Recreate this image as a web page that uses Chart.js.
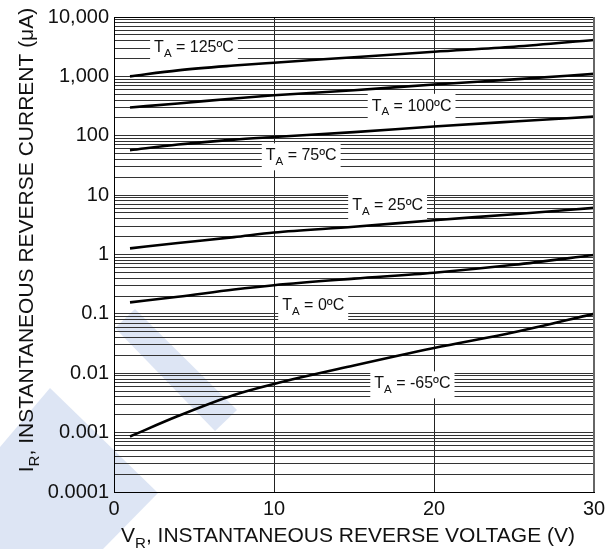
<!DOCTYPE html>
<html>
<head>
<meta charset="utf-8">
<script src="https://cdn.jsdelivr.net/npm/chart.js@4"></script>
<style>
    html, body { margin: 0; padding: 0; background: #fff; }
    #wrap { width: 611px; height: 549px; position: relative; }
</style>
</head>
<body>
<div id="wrap"><canvas id="chart" width="611" height="549"></canvas></div>
<script>
// Data.
const voltages = [1, 4, 7.5, 10, 15, 20, 25, 30];
const current125 = [1000, 1260, 1520, 1700, 2100, 2600, 3150, 4100];
const current100 = [300, 350, 425, 480, 585, 730, 890, 1100];
const current75 = [57, 71, 86, 95, 115, 143, 174, 210];
const current25 = [1.27, 1.56, 1.96, 2.35, 2.93, 3.78, 4.75, 6.1];
const current0 = [0.156, 0.194, 0.257, 0.304, 0.392, 0.493, 0.67, 0.98];
const currentMinus65 = [0.00086, 0.0019, 0.0043, 0.0066, 0.0135, 0.0266, 0.049, 0.1];

// Curve labels and where they sit (in data units).
const curveNames = ['125ºC', '100ºC', '75ºC', '25ºC', '0ºC', '-65ºC'];
const labelV = [5.0, 18.6, 11.7, 17.1, 12.45, 18.65];
const labelI = [3000, 307, 45, 6.5, 0.135, 0.0065];

// Ticks.
const xTicks = [0, 10, 20, 30];
const xTickLabels = ['0', '10', '20', '30'];
const yDecades = [0.0001, 0.001, 0.01, 0.1, 1, 10, 100, 1000, 10000];
const yTickLabels = ['0.0001', '0.001', '0.01', '0.1', '1', '10', '100', '1,000', '10,000'];

const FONT = "'Liberation Sans', Arial, sans-serif";

function toPoints(values) {
    return voltages.map((v, i) => ({ x: v, y: values[i] }));
}

// Draw text made of normal and subscript parts, centred on x.
function drawRich(ctx, parts, x, y, size) {
    let widths = parts.map(p => {
        ctx.font = (p.sub ? size * 0.72 : size) + 'px ' + FONT;
        return ctx.measureText(p.t).width;
    });
    let total = widths.reduce((a, b) => a + b, 0);
    let cx = x - total / 2;
    parts.forEach((p, i) => {
        ctx.font = (p.sub ? size * 0.72 : size) + 'px ' + FONT;
        ctx.fillText(p.t, cx, p.sub ? y + size * 0.28 : y);
        cx += widths[i];
    });
    return total;
}

function richWidth(ctx, parts, size) {
    let total = 0;
    parts.forEach(p => {
        ctx.font = (p.sub ? size * 0.72 : size) + 'px ' + FONT;
        total += ctx.measureText(p.t).width;
    });
    return total;
}

// Background and watermark.
const backgroundPlugin = {
    id: 'background',
    beforeDraw(chart) {
        const ctx = chart.ctx;
        ctx.save();
        ctx.fillStyle = '#fff';
        ctx.fillRect(0, 0, chart.width, chart.height);
        ctx.fillStyle = '#dde5f4';
        ctx.beginPath();
        ctx.moveTo(135, 309);
        ctx.lineTo(237, 410);
        ctx.lineTo(215, 431);
        ctx.lineTo(115, 328);
        ctx.closePath();
        ctx.fill();
        ctx.beginPath();
        ctx.moveTo(50, 388);
        ctx.lineTo(158, 493);
        ctx.lineTo(103, 549);
        ctx.lineTo(0, 549);
        ctx.lineTo(0, 447);
        ctx.closePath();
        ctx.fill();
        ctx.restore();
    }
};

// White boxes with the temperature labels, frame and axis titles.
const labelPlugin = {
    id: 'curveLabels',
    beforeDatasetsDraw(chart) {
        const ctx = chart.ctx;
        const xs = chart.scales.x, ys = chart.scales.y;
        ctx.save();
        ctx.textBaseline = 'alphabetic';
        curveNames.forEach((name, i) => {
            const px = xs.getPixelForValue(labelV[i]);
            const py = ys.getPixelForValue(labelI[i]);
            const parts = [{ t: 'T' }, { t: 'A', sub: true }, { t: ' = ' + name }];
            const w = richWidth(ctx, parts, 16);
            ctx.fillStyle = '#fff';
            ctx.fillRect(px - w / 2 - 4, py - 13, w + 8, 27);
            ctx.fillStyle = '#111';
            drawRich(ctx, parts, px, py + 4, 16);
        });
        ctx.restore();
    },
    afterDraw(chart) {
        const ctx = chart.ctx;
        const a = chart.chartArea;
        ctx.save();
        // Frame.
        ctx.strokeStyle = '#000';
        ctx.lineWidth = 1;
        ctx.beginPath();
        ctx.moveTo(a.left, a.top + 0.5);
        ctx.lineTo(a.right, a.top + 0.5);
        ctx.stroke();
        ctx.strokeStyle = '#666';
        ctx.lineWidth = 2;
        ctx.beginPath();
        ctx.moveTo(a.right, a.top);
        ctx.lineTo(a.right, a.bottom);
        ctx.stroke();

        // Axis titles.
        ctx.fillStyle = '#111';
        ctx.textBaseline = 'alphabetic';
        drawRich(ctx, [{ t: 'V' }, { t: 'R', sub: true }, { t: ', INSTANTANEOUS REVERSE VOLTAGE (V)' }],
            348, 542, 21);
        ctx.translate(33, 240);
        ctx.rotate(-Math.PI / 2);
        drawRich(ctx, [{ t: 'I' }, { t: 'R', sub: true }, { t: ', INSTANTANEOUS REVERSE CURRENT (μA)' }],
            0, 0, 21);
        ctx.restore();
    }
};

function lineSet(values) {
    return {
        data: toPoints(values),
        borderColor: '#000',
        borderWidth: 2.6,
        pointRadius: 0,
        cubicInterpolationMode: 'monotone',
        fill: false,
    };
}

const ctx = document.getElementById('chart');

const config = {
    type: 'line',
    data: {
        datasets: [
            lineSet(current125),
            lineSet(current100),
            lineSet(current75),
            lineSet(current25),
            lineSet(current0),
            lineSet(currentMinus65),
        ]
    },
    options: {
        responsive: false,
        animation: false,
        layout: {
            padding: { left: 0, right: 17, top: 13, bottom: 0 },
        },
        plugins: {
            legend: { display: false },
            tooltip: { enabled: false },
        },
        scales: {
            x: {
                type: 'linear',
                min: 0,
                max: 30,
                afterBuildTicks: (scale) => {
                    scale.ticks = xTicks.map(v => ({ value: v }));
                },
                afterFit: (scale) => { scale.height = 57; },
                ticks: {
                    callback: (v) => xTickLabels[xTicks.indexOf(v)],
                    font: { family: FONT, size: 20 },
                    color: '#111',
                    padding: 5,
                    maxRotation: 0,
                    autoSkip: false,
                },
                grid: {
                    color: '#222',
                    lineWidth: 1,
                    drawTicks: false,
                },
                border: { display: true, color: '#000', width: 1 },
            },
            y: {
                type: 'logarithmic',
                min: 0.0001,
                max: 10000,
                afterBuildTicks: (scale) => {
                    const ticks = [];
                    for (let d = 0; d < yDecades.length; d++) {
                        for (let m = 1; m <= 9; m++) {
                            if (d == yDecades.length - 1 && m > 1) break;
                            ticks.push({ value: yDecades[d] * m });
                        }
                    }
                    scale.ticks = ticks;
                },
                afterFit: (scale) => { scale.width = 114; },
                ticks: {
                    callback: (v) => {
                        const i = yDecades.findIndex(d => Math.abs(d - v) / d < 1e-6);
                        return i >= 0 ? yTickLabels[i] : '';
                    },
                    font: { family: FONT, size: 20 },
                    color: '#111',
                    padding: 5,
                    autoSkip: false,
                },
                grid: {
                    color: '#333',
                    lineWidth: 1,
                    drawTicks: false,
                },
                border: { display: true, color: '#000', width: 1 },
            },
        },
    },
    plugins: [backgroundPlugin, labelPlugin],
};

window.myChart = new Chart(ctx, config);
</script>
</body>
</html>
